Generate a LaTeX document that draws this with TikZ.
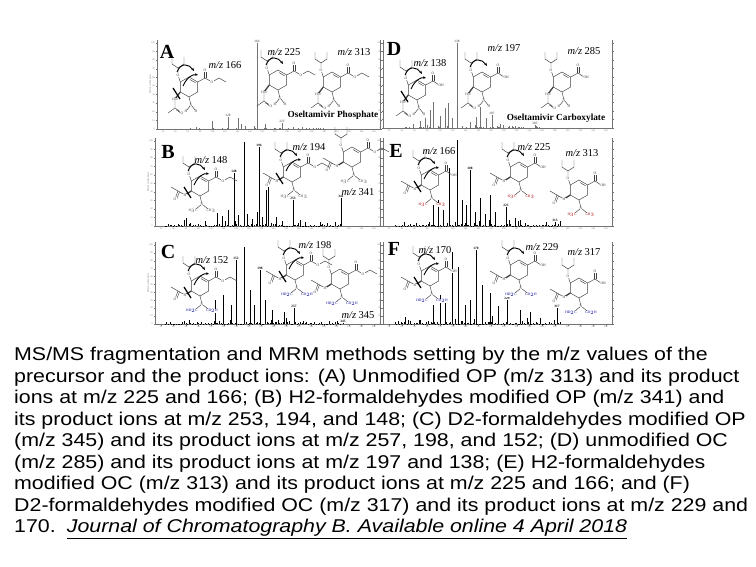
\documentclass[tikz,border=0pt]{standalone}
\usepackage{fontspec}
\setmainfont{Liberation Serif}
\newfontfamily\capfont[FakeStretch=1.155]{Liberation Sans}
\usetikzlibrary{arrows.meta}

\tikzset{
  axis/.style={black!55,line width=0.4pt},
  tick/.style={black!55,line width=0.25pt},
  ticklab/.style={font=\fontsize{2.4}{2.6}\selectfont,text=black!55,inner sep=0.5pt},
  letter/.style={font=\fontsize{20}{20}\selectfont\bfseries,inner sep=0pt},
  mz/.style={font=\fontsize{10.5}{11}\selectfont,inner sep=0pt},
  plab/.style={font=\fontsize{3.4}{3.6}\selectfont\bfseries,inner sep=0.4pt,above},
  cmpd/.style={font=\fontsize{9.3}{10}\selectfont\bfseries,inner sep=0pt},
  peak/.style={line width=0.6pt},
  bond/.style={black!75,line width=0.45pt},
  atom/.style={font=\fontsize{3.6}{4}\selectfont,inner sep=0.3pt,text=black!80,fill=white},
  frag/.style={line width=0.9pt,-{Stealth[length=3pt,width=2.6pt]}},
  cutbar/.style={line width=1.2pt},
  captext/.style={font=\capfont\fontsize{18.5}{21.5}\selectfont,anchor=base west,inner sep=0pt},
  % ring and ether side chain
  ring/.pic={
    \draw[bond] (0,-10) -- (8.7,-5) -- (8.7,5) -- (0,10) -- (-8.7,5) -- (-8.7,-5) -- cycle;
    \draw[bond] (1,-7.4) -- (6.6,-4.2);
    \draw[bond] (-8.7,-5) -- (-11,-12) -- (-11,-19) -- (-17,-23) -- (-17,-30);
    \draw[bond] (-11,-19) -- (-5,-23) -- (-5,-30);
    \draw[bond] (0,10) -- (2,18);
    \node[atom] at (-11,-12) {O};
  },
  acdown/.pic={
    \draw[bond,line width=1.3pt] (-8.7,5) -- (-14,12);
    \draw[bond] (-14,12) -- (-14,21) -- (-21,26);
    \draw[bond] (-14,21) -- (-7,26);
    \draw[bond] (-12.8,22.8) -- (-8,26.2);
    \node[atom] at (-14,12) {HN};
    \node[atom] at (-7,26) {O};
  },
  acleft/.pic={
    \draw[bond,line width=1.3pt] (-8.7,5) -- (-15,9);
    \draw[bond] (-15,9) -- (-22,5) -- (-29,1);
    \draw[bond] (-22,5) -- (-25,13);
    \draw[bond] (-20.5,6) -- (-23.5,13.5);
    \node[atom] at (-15,9) {H};
    \node[atom] at (-25,13) {O};
  },
  ester/.pic={
    \draw[bond] (8.7,-5) -- (16,-9) -- (23,-5) -- (30,-9) -- (37,-5);
    \draw[bond] (15.2,-9) -- (15.2,-17);
    \draw[bond] (16.8,-9) -- (16.8,-17);
    \node[atom] at (16,-17) {O};
    \node[atom] at (23,-5) {O};
  },
  acid/.pic={
    \draw[bond] (8.7,-5) -- (16,-9) -- (22,-5);
    \draw[bond] (15.2,-9) -- (15.2,-17);
    \draw[bond] (16.8,-9) -- (16.8,-17);
    \node[atom] at (16,-17) {O};
    \node[atom,anchor=west] at (21,-5) {OH};
  },
  nh2/.pic={
    \draw[bond] (2,18) -- (-3,24);
    \draw[bond] (2,18) -- (7,24);
    \node[atom] at (2,18) {N};
    \node[atom] at (-3,24) {H};
    \node[atom] at (7,24) {H};
  },
  nme/.pic={
    \draw[bond] (2,18) -- (-4,23);
    \draw[bond] (2,18) -- (8,23);
    \node[atom] at (2,18) {N};
    \node[atom,text=#1] at (-7,25) {H$_3$C};
    \node[atom,text=#1] at (11,25) {CH$_3$};
  },
  nmd/.pic={
    \draw[bond] (2,18) -- (-4,23);
    \draw[bond] (2,18) -- (8,23);
    \node[atom] at (2,18) {N};
    \node[atom,text=#1] at (-8,25) {HD$_2$C};
    \node[atom,text=#1] at (12,25) {CD$_2$H};
  },
  % whole molecules
  opmol/.pic={\pic{ring}; \pic{acdown}; \pic{ester}; \pic{nh2};},
  ocmol/.pic={\pic{ring}; \pic{acdown}; \pic{acid}; \pic{nh2};},
  hopmol/.pic={\pic{ring}; \pic{acleft}; \pic{ester}; \pic{nme=#1};},
  hocmol/.pic={\pic{ring}; \pic{acleft}; \pic{acid}; \pic{nme=#1};},
  dopmol/.pic={\pic{ring}; \pic{acleft}; \pic{ester}; \pic{nmd=#1};},
  docmol/.pic={\pic{ring}; \pic{acleft}; \pic{acid}; \pic{nmd=#1};},
  % fragmentation arrows
  frag1/.pic={
    \draw[frag] (-12,-15) .. controls (-8,-25) and (0,-23) .. (5,-16);
  },
  frag2/.pic={
    \draw[frag] (-12,-15) .. controls (-8,-25) and (0,-23) .. (5,-16);
    \draw[frag] (-6,-1) .. controls (-2,-10) and (4,-13) .. (9,-12);
    \draw[cutbar] (-16,1) -- (-9,12);
  },
}

% x0, ytop, x1, ybot
\newcommand{\spframe}[4]{%
  \draw[axis] (#1,#2) -- (#1,#4) -- (#3,#4) -- (#3,#2);
  \foreach \k in {0,...,10}{
    \pgfmathtruncatemacro\ylab{10*\k}
    \draw[tick] (#1,{#4-\k/10*(#4-#2-3)}) -- ++(-1.5,0) node[ticklab,left] {\ylab};
    \draw[tick] (#3,{#4-\k/10*(#4-#2-3)}) -- ++(1.5,0);
  }
  \foreach \k in {0,...,17}{
    \pgfmathtruncatemacro\xlab{20+20*\k}
    \draw[tick] ({#1+6+\k/17*(#3-#1-12)},#4) -- ++(0,1.5) node[ticklab,below] {\xlab};
  }
}
% x from, x to, ybot, max height, colour
\newcommand{\noise}[5]{%
  \foreach \k in {0,...,110}{
    \pgfmathsetmacro\xx{#1+\k/110*(#2-#1)}
    \pgfmathsetmacro\hh{#4*rnd*rnd*rnd}
    \draw[peak,line width=0.3pt,#5] (\xx,#3) -- ++(0,-\hh);
  }
}

\begin{document}
\begin{tikzpicture}[x=1pt,y=-1pt]
\useasboundingbox (0,0) rectangle (756,567);
\fill[white] (0,0) rectangle (756,567);
\pgfmathsetseed{11}

% frames
\spframe{157}{40}{380}{129}
\spframe{383}{40}{612}{128}
\spframe{155}{138}{380}{226}
\spframe{383}{138}{612}{226}
\spframe{155}{242}{380}{324}
\spframe{383}{242}{612}{324}
\node[ticklab,rotate=90] (ra) at (150,84) {Relative Abundance};
\node[ticklab,rotate=90] (rb) at (148,182) {Relative Abundance};
\node[ticklab,rotate=90] (rc) at (148,283) {Relative Abundance};

% spectra
\noise{190}{330}{129}{3}{black!55}
\foreach \x/\y in {212/121,238/118,241/124,254/126,265/124,293/127,302/127,318/128}
  \draw[peak,black!55] (\x,129) -- (\x,\y);
\foreach \x/\y/\l in {257/43/166,228/117/120,282/123/225}
  \draw[peak,black!55] (\x,129) -- (\x,\y) node[plab] {\l};

\noise{400}{540}{128}{5}{black!55}
\foreach \x/\y in {413/124,420/121,425/118,430/110,433/102,440/116,445/108,448/103,452/118,470/122,476/117,480/107,486/118,500/124,515/126}
  \draw[peak,black!55] (\x,128) -- (\x,\y);
\foreach \x/\y/\l in {457/43/138,492/115/197,535/125/285}
  \draw[peak,black!55] (\x,128) -- (\x,\y) node[plab] {\l};

\noise{165}{340}{226}{9}{black}
\foreach \x/\y in {244/142,266/190,268/185,217/213,222/216,228/210,238/215,247/214,252/219,257/212,262/217,276/217,282/221,300/220,305/222,320/222}
  \draw[peak] (\x,226) -- (\x,\y);
\foreach \x/\y/\l in {259/147/194,234/173/148,293/200/253,341/198/341}
  \draw[peak] (\x,226) -- (\x,\y) node[plab] {\l};

\noise{395}{560}{226}{9}{black}
\foreach \x/\y in {457/140,449/168,480/198,490/195,433/205,438/200,443/210,462/200,466/205,475/212,485/214,495/212,515/218,520/220}
  \draw[peak] (\x,226) -- (\x,\y);
\foreach \x/\y/\l in {470/170/188,506/207/225,555/222/313}
  \draw[peak] (\x,226) -- (\x,\y) node[plab] {\l};

\noise{165}{340}{324}{9}{black}
\foreach \x/\y in {244/247,215/300,223/295,231/305,250/290,254/305,265/300,272/310,284/312}
  \draw[peak] (\x,324) -- (\x,\y);
\foreach \x/\y/\l in {236/260/152,260/270/198,294/308/257,343/323/345}
  \draw[peak] (\x,324) -- (\x,\y) node[plab] {\l};

\noise{395}{560}{324}{9}{black}
\foreach \x/\y in {452/252,458/267,482/285,490/293,433/305,440/295,445/300,465/305,470/300,498/306,520/310,530/312}
  \draw[peak] (\x,324) -- (\x,\y);
\foreach \x/\y/\l in {476/250/170,507/300/229,557/308/317}
  \draw[peak] (\x,324) -- (\x,\y) node[plab] {\l};

% structures A
\pic at (189,87) {opmol}; \pic at (189,87) {frag2};
\pic at (278,80) {opmol}; \pic at (278,80) {frag1};
\pic at (332,82) {opmol};
% structures D
\pic at (417,90) {ocmol}; \pic at (417,90) {frag2};
\pic at (482,82) {ocmol}; \pic at (482,82) {frag1};
\pic at (562,82) {ocmol};
% structures B
\pic at (200,186) {hopmol=black!70}; \pic at (200,186) {frag2};
\pic at (292,172) {hopmol=black!70}; \pic at (292,172) {frag2};
\pic[scale=0.72] at (352,157) {hopmol=black!70};
% structures E
\pic at (430,180) {hocmol=red!70!black}; \pic at (430,180) {frag2};
\pic at (519,172) {hocmol=red!70!black}; \pic at (519,172) {frag1};
\pic at (579,190) {hocmol=red!70!black};
% structures C
\pic at (200,286) {dopmol=blue!60!black}; \pic at (200,286) {frag2};
\pic at (295,270) {dopmol=blue!60!black}; \pic at (295,270) {frag2};
\pic at (340,279) {dopmol=blue!60!black};
% structures F
\pic at (430,276) {docmol=blue!60!black}; \pic at (430,276) {frag2};
\pic at (519,270) {docmol=blue!60!black}; \pic at (519,270) {frag1};
\pic at (579,288) {docmol=blue!60!black};

% panel letters
\node[letter] (lA) at (167,52) {A};
\node[letter] (lD) at (394,49) {D};
\node[letter] (lB) at (168,152) {B};
\node[letter] (lE) at (396,151) {E};
\node[letter] (lC) at (168,252) {C};
\node[letter] (lF) at (394,249) {F};

% ion labels
\node[mz] (mzA1) at (225,65) {\textit{m/z} 166};
\node[mz] (mzA2) at (284,52) {\textit{m/z} 225};
\node[mz] (mzA3) at (354,52) {\textit{m/z} 313};
\node[mz] (mzD1) at (430,63) {\textit{m/z} 138};
\node[mz] (mzD2) at (504,48) {\textit{m/z} 197};
\node[mz] (mzD3) at (584,51) {\textit{m/z} 285};
\node[mz] (mzB1) at (211,160) {\textit{m/z} 148};
\node[mz] (mzB2) at (309,147) {\textit{m/z} 194};
\node[mz] (mzB3) at (358,192) {\textit{m/z} 341};
\node[mz] (mzE1) at (439,151) {\textit{m/z} 166};
\node[mz] (mzE2) at (534,147) {\textit{m/z} 225};
\node[mz] (mzE3) at (582,153) {\textit{m/z} 313};
\node[mz] (mzC1) at (212,260) {\textit{m/z} 152};
\node[mz] (mzC2) at (315,245) {\textit{m/z} 198};
\node[mz] (mzC3) at (358,315) {\textit{m/z} 345};
\node[mz] (mzF1) at (435,250) {\textit{m/z} 170};
\node[mz] (mzF2) at (542,247) {\textit{m/z} 229};
\node[mz] (mzF3) at (584,252) {\textit{m/z} 317};
\node[cmpd] (op) at (333,115) {Oseltamivir Phosphate};
\node[cmpd] (oc) at (556,118) {Oseltamivir Carboxylate};

% caption
\node[captext] (cap1) at (14,360.7) {MS/MS fragmentation and MRM methods setting by the m/z values of the};
\node[captext] (cap2) at (14,382.2) {precursor and the product ions: (A) Unmodified OP (m/z 313) and its product};
\node[captext] (cap3) at (14,403.7) {ions at m/z 225 and 166; (B) H2-formaldehydes modified OP (m/z 341) and};
\node[captext] (cap4) at (14,425.2) {its product ions at m/z 253, 194, and 148; (C) D2-formaldehydes modified OP};
\node[captext] (cap5) at (14,446.7) {(m/z 345) and its product ions at m/z 257, 198, and 152; (D) unmodified OC};
\node[captext] (cap6) at (14,468.2) {(m/z 285) and its product ions at m/z 197 and 138; (E) H2-formaldehydes};
\node[captext] (cap7) at (14,489.7) {modified OC (m/z 313) and its product ions at m/z 225 and 166; and (F)};
\node[captext] (cap8) at (14,511.2) {D2-formaldehydes modified OC (m/z 317) and its product ions at m/z 229 and};
\node[captext] (cap9) at (14,532.7) {170.\hspace{0.6em}\underline{\textit{Journal of Chromatography B. Available online 4 April 2018}}};
\end{tikzpicture}
\end{document}
